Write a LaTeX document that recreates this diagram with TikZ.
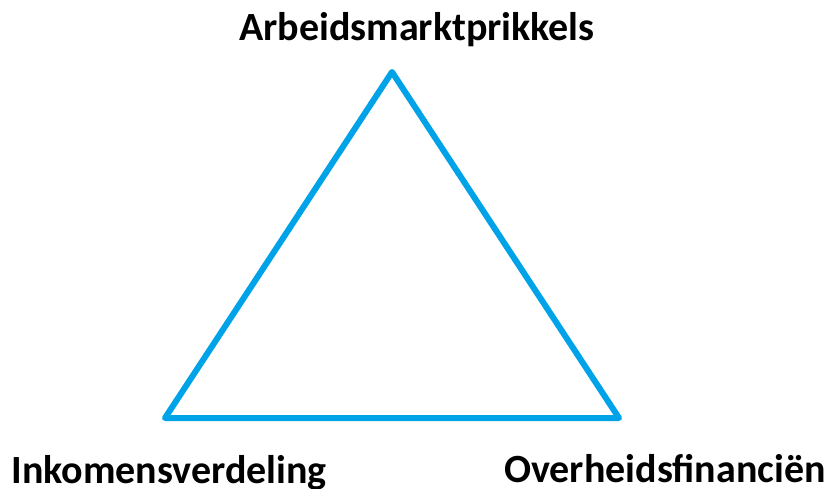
\documentclass[tikz,border=0pt]{standalone}
\usepackage{fontspec}
\setmainfont{Carlito}
\definecolor{triblue}{RGB}{0,162,232}
\begin{document}
\begin{tikzpicture}[x=1pt,y=-1pt,
  lbl/.style={font=\fontsize{40}{46}\selectfont\bfseries, inner sep=0pt, anchor=base},
  edge/.style={draw=triblue, line width=6pt, line join=round}]
\useasboundingbox (0,0) rectangle (829,488);
\coordinate (top) at (392,72);
\coordinate (bl) at (165,418);
\coordinate (br) at (619,418);
\draw[edge] (top) -- (bl) -- (br) -- cycle;
\node[lbl] (t1) at (417,40) {Arbeidsmarktprikkels};
\node[lbl] (t2) at (169,483) {Inkomensverdeling};
\node[lbl] (t3) at (665,482) {Overheidsfinanciën};
\end{tikzpicture}
\end{document}
